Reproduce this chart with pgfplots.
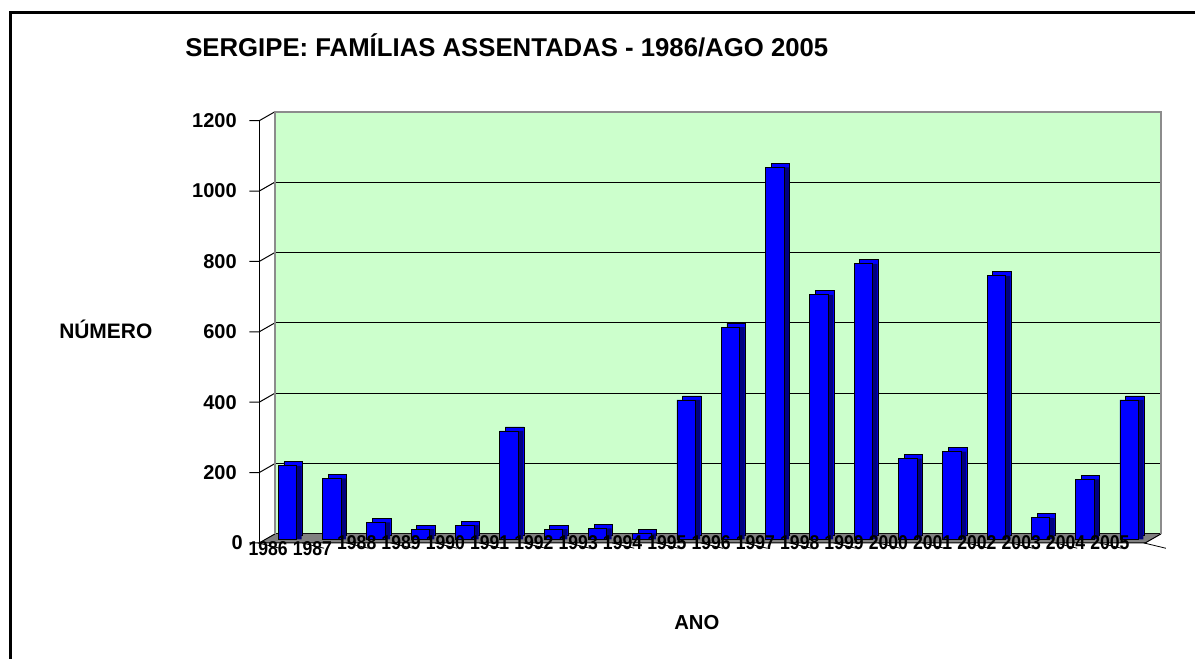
\documentclass[border=0pt]{standalone}
\usepackage{fontspec}
\setmainfont{Liberation Sans}
\usepackage{pgfplots}
\usepackage{pgfplotstable}
\pgfplotsset{compat=1.18}
\definecolor{wallgreen}{HTML}{CCFFCC}
\definecolor{barblue}{HTML}{0000FF}
\definecolor{barnavy}{HTML}{000080}
\definecolor{floorgray}{HTML}{808080}
\definecolor{wallborder}{HTML}{8C8C8C}
\newcommand\lbl[1]{\scalebox{0.88}[1]{#1}}

\pgfplotstableread{
x y
0 209
1 173
2 48
3 29
4 40
5 308
6 29
7 31
8 17
9 396
10 603
11 1057
12 695
13 783
14 229
15 249
16 749
17 61
18 170
19 396
}\datatable

\begin{document}
\begin{tikzpicture}[lab/.style={anchor=center, inner sep=0pt, font=\fontsize{15pt}{17pt}\selectfont\bfseries}]
\useasboundingbox (0,0) rectangle (896.25pt,-494.25pt);
\fill[white] (0,0) rectangle (896.25pt,-494.25pt);
\begin{scope}[x=0.75pt,y=-0.75pt]
\draw[line width=2.25pt] (10,700) -- (10,12.5) -- (1200,12.5);
\node[anchor=base west, inner sep=0, font=\fontsize{19.3pt}{21pt}\selectfont\bfseries] at (185,57) {SERGIPE: FAMÍLIAS ASSENTADAS - 1986/AGO 2005};
\node[anchor=base west, inner sep=0, font=\fontsize{15.7pt}{17pt}\selectfont\bfseries] at (59,338.3) {NÚMERO};
\node[anchor=base west, inner sep=0, font=\fontsize{15.2pt}{17pt}\selectfont\bfseries] at (674,629.3) {ANO};
\end{scope}
\begin{axis}[
 at={(206.25pt,-400.425pt)}, anchor=south west,
 scale only axis, width=664.5pt, height=316.65pt,
 xmin=-0.5, xmax=19.5, ymin=0, ymax=1200,
 axis line style={draw=none},
 axis background/.style={fill=wallgreen},
 xtick=\empty,
 ytick={0,200,...,1200},
 yticklabels={{0\kern-4.5pt},200,400,600,800,1000,1200},
 major tick length=0pt,
 ymajorgrids, grid style={black, line width=0.75pt},
 yticklabel style={anchor=east, inner sep=0pt, xshift=-28.5pt, yshift=-6.75pt, font=\fontsize{15pt}{17pt}\selectfont\bfseries},
 /pgf/number format/assume math mode=true,
 clip=false,
]
% floor
\fill[floorgray] (rel axis cs:0,0) -- (rel axis cs:1,0) -- ([shift={(-11.8pt,-6.75pt)}]rel axis cs:1,0) -- ([shift={(-11.8pt,-6.75pt)}]rel axis cs:0,0) -- cycle;
\draw[black, line width=0.75pt] ([shift={(-11.8pt,-6.75pt)}]rel axis cs:0,0) -- ([shift={(-11.8pt,-6.75pt)}]rel axis cs:1,0) -- (rel axis cs:1,0);
% bars: top face layer, side face layer, front face
\addplot[ybar, bar width=13.9pt, bar shift=-2.96pt, fill=barblue, draw=black, line width=0.6pt, yshift=-1.05pt] table[x=x,y=y]{\datatable};
\addplot[ybar, bar width=13.2pt, bar shift=-3.31pt, fill=barnavy, draw=none, yshift=-4.05pt] table[x=x,y=y]{\datatable};
\addplot[ybar, bar width=13.9pt, bar shift=-7.24pt, fill=barblue, draw=black, line width=0.6pt, yshift=-4.05pt] table[x=x,y=y]{\datatable};
% left wall tick connectors
\pgfplotsinvokeforeach{0,200,...,1200}{
 \draw[black, line width=0.75pt] (axis cs:-0.5,#1) -- ++(-11.8pt,-6.75pt) -- ++(-7.5pt,0pt);
}
% front axis line
\draw[black, line width=0.75pt] ([shift={(-11.8pt,-6.75pt)}]rel axis cs:0,0) -- ([shift={(-11.8pt,-6.75pt)}]rel axis cs:0,1);
% front category ticks
\pgfplotsinvokeforeach{0,...,20}{
 \draw[black, line width=0.6pt] ([shift={(-13pt,-6.75pt)}]axis cs:{#1-0.5},0) -- ++(0,-4pt);
}
% wall border
\draw[wallborder, line width=1.5pt] (rel axis cs:0,0) -- (rel axis cs:0,1) -- (rel axis cs:1,1) -- (rel axis cs:1,0);
% category labels (on top of floor)
\node[lab] at ([shift={(-21.75pt,-11.35pt)}]axis cs:0,0) {\lbl{1986}};
\node[lab] at ([shift={(-21.75pt,-11.35pt)}]axis cs:1,0) {\lbl{1987}};
\node[lab] at ([shift={(-21.75pt,-6.45pt)}]axis cs:2,0) {\lbl{1988}};
\node[lab] at ([shift={(-21.75pt,-6.45pt)}]axis cs:3,0) {\lbl{1989}};
\node[lab] at ([shift={(-21.75pt,-6.45pt)}]axis cs:4,0) {\lbl{1990}};
\node[lab] at ([shift={(-21.75pt,-6.45pt)}]axis cs:5,0) {\lbl{1991}};
\node[lab] at ([shift={(-21.75pt,-6.45pt)}]axis cs:6,0) {\lbl{1992}};
\node[lab] at ([shift={(-21.75pt,-6.45pt)}]axis cs:7,0) {\lbl{1993}};
\node[lab] at ([shift={(-21.75pt,-6.45pt)}]axis cs:8,0) {\lbl{1994}};
\node[lab] at ([shift={(-21.75pt,-6.45pt)}]axis cs:9,0) {\lbl{1995}};
\node[lab] at ([shift={(-21.75pt,-6.45pt)}]axis cs:10,0) {\lbl{1996}};
\node[lab] at ([shift={(-21.75pt,-6.45pt)}]axis cs:11,0) {\lbl{1997}};
\node[lab] at ([shift={(-21.75pt,-6.45pt)}]axis cs:12,0) {\lbl{1998}};
\node[lab] at ([shift={(-21.75pt,-6.45pt)}]axis cs:13,0) {\lbl{1999}};
\node[lab] at ([shift={(-21.75pt,-6.45pt)}]axis cs:14,0) {\lbl{2000}};
\node[lab] at ([shift={(-21.75pt,-6.45pt)}]axis cs:15,0) {\lbl{2001}};
\node[lab] at ([shift={(-21.75pt,-6.45pt)}]axis cs:16,0) {\lbl{2002}};
\node[lab] at ([shift={(-21.75pt,-6.45pt)}]axis cs:17,0) {\lbl{2003}};
\node[lab] at ([shift={(-21.75pt,-6.45pt)}]axis cs:18,0) {\lbl{2004}};
\node[lab] at ([shift={(-21.75pt,-6.45pt)}]axis cs:19,0) {\lbl{2005}};
\end{axis}
\end{tikzpicture}
\end{document}
